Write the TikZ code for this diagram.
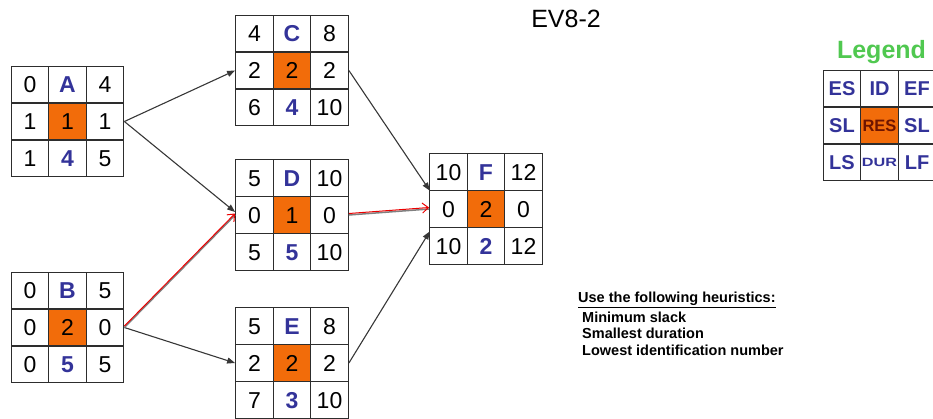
\documentclass[tikz,border=0pt]{standalone}
\usepackage{fontspec}
\setmainfont{Liberation Sans}
\usepackage{graphicx}
\usetikzlibrary{matrix,arrows.meta}
\definecolor{resorange}{RGB}{242,108,10}
\definecolor{idblue}{RGB}{51,51,153}
\definecolor{gridline}{RGB}{45,45,45}
\definecolor{legendgreen}{RGB}{80,200,80}
\definecolor{resred}{RGB}{110,20,0}
\definecolor{arrowgray}{RGB}{55,55,55}
\definecolor{critred}{RGB}{235,0,0}
\begin{document}
\begin{tikzpicture}[x=1pt,y=-1pt,
  cell/.style={draw=gridline, line width=1.3pt, minimum width=37.5pt, minimum height=36.8pt,
    inner sep=0pt, anchor=center, font=\fontsize{23}{23}\selectfont, text height=16.5pt, text depth=0pt},
  actbox/.style={matrix of nodes, nodes={cell}, column sep=-1.3pt, row sep=-1.3pt, inner sep=0pt, outer sep=0pt},
  idc/.style={text=idblue, font=\fontsize{23}{23}\selectfont\bfseries},
  resc/.style={fill=resorange},
  durc/.style={text=idblue, font=\fontsize{23}{23}\selectfont\bfseries},
  legc/.style={text=idblue, font=\fontsize{20}{20}\selectfont\bfseries, text height=14.5pt},
  legres/.style={fill=resorange, text=resred, font=\fontsize{16.5}{16.5}\selectfont\bfseries, text height=12pt},
  legdur/.style={text=idblue, font=\fontsize{12}{12}\selectfont\bfseries, text height=8.6pt},
  link/.style={draw=arrowgray, line width=1.1pt, -{Triangle[length=8pt,width=6pt]}},
  critshadow/.style={draw=gray, line width=1.5pt},
  crit/.style={draw=critred, line width=1pt, -{Straight Barb[length=6pt,width=10pt,line width=1pt]}},
  heur/.style={anchor=west, inner sep=0pt, font=\fontsize{14.5}{14.5}\selectfont\bfseries},
]
\useasboundingbox (0,0) rectangle (933,418);

\matrix (A) [actbox] at (67.5,121.5) {
  0 & |[idc]| A & 4 \\
  1 & |[resc]| 1 & 1 \\
  1 & |[durc]| 4 & 5 \\
};
\matrix (B) [actbox] at (67.5,327.5) {
  0 & |[idc]| B & 5 \\
  0 & |[resc]| 2 & 0 \\
  0 & |[durc]| 5 & 5 \\
};
\matrix (C) [actbox] at (292,70.5) {
  4 & |[idc]| C & 8 \\
  2 & |[resc]| 2 & 2 \\
  6 & |[durc]| 4 & 10 \\
};
\matrix (D) [actbox] at (292,215) {
  5 & |[idc]| D & 10 \\
  0 & |[resc]| 1 & 0 \\
  5 & |[durc]| 5 & 10 \\
};
\matrix (E) [actbox] at (292,363) {
  5 & |[idc]| E & 8 \\
  2 & |[resc]| 2 & 2 \\
  7 & |[durc]| 3 & 10 \\
};
\matrix (F) [actbox] at (486,209) {
  10 & |[idc]| F & 12 \\
  0 & |[resc]| 2 & 0 \\
  10 & |[durc]| 2 & 12 \\
};

% legend
\node (legtitle) at (881.5,52) {\fontsize{25}{25}\selectfont\bfseries\color{legendgreen}Legend};
\matrix (L) [actbox] at (879.5,125.5) {
  |[legc]| ES & |[legc]| ID & |[legc]| EF \\
  |[legc]| SL & |[legres]| RES & |[legc]| SL \\
  |[legc]| LS & |[legdur]| \scalebox{1.35}[1]{DUR} & |[legc]| LF \\
};

% title
\node (title) at (566,19) {\fontsize{25}{25}\selectfont EV8-2};

% heuristics
\node[heur] (h0) at (578,300) {\underline{Use the following heuristics:}};
\node[heur] (h1) at (582,317) {Minimum slack};
\node[heur] (h2) at (582,333.5) {Smallest duration};
\node[heur] (h3) at (582,350) {Lowest identification number};

% connectors
\draw[link] (A.east) -- (C.west);
\draw[link] (A.east) -- ([yshift=3pt]D.west);
\draw[link] (B.east) -- (E.west);
\draw[link] (C.east) -- (F-2-1.north west);
\draw[link] (E.east) -- ([yshift=-4pt]F-2-1.south west);
\draw[critshadow] (B.east) -- (D.west);
\draw[crit] ([yshift=1.5pt]B.east) -- ([yshift=1.5pt]D.west);
\draw[critshadow] (D.east) -- (F.west);
\draw[crit] ([yshift=1.5pt]D.east) -- ([yshift=1.5pt]F.west);
\end{tikzpicture}
\end{document}
